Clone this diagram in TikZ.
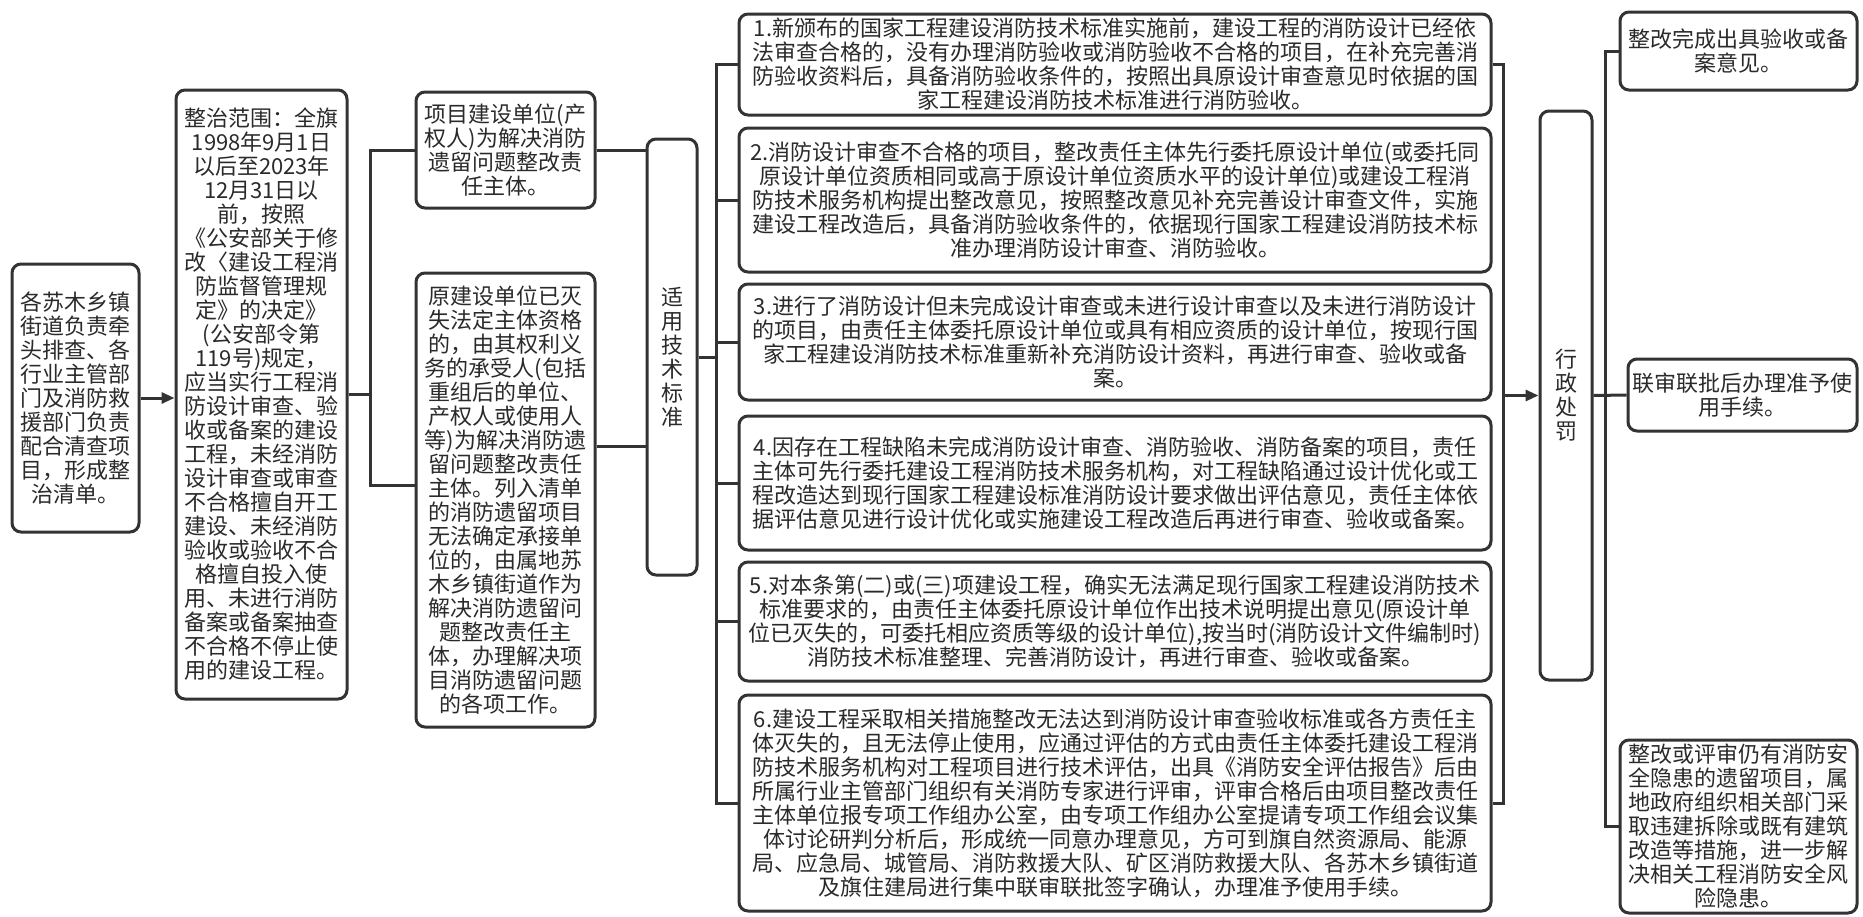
\documentclass[tikz,border=0pt]{standalone}
\usepackage{fontspec}
\newfontfamily\cjk{Noto Sans CJK SC}
\usetikzlibrary{arrows.meta}
\definecolor{ln}{HTML}{333333}
\definecolor{tx}{HTML}{2A2A2A}
\tikzset{
  box/.style={draw=ln, line width=3pt, rounded corners=9pt, fill=white, inner sep=0pt,
    align=center, text=tx, font=\cjk\fontsize{22}{24}\selectfont},
  conn/.style={draw=ln, line width=3pt},
  arr/.style={conn, -{Triangle[length=13pt,width=11pt]}}
}
\begin{document}
\begin{tikzpicture}[x=1pt,y=-1pt]
\useasboundingbox[fill=white] (0,0) rectangle (1863,916);

% left column
\node[box, minimum width=127pt, minimum height=268pt] (A) at (75.5,398)
 {各苏木乡镇\\街道负责牵\\头排查、各\\行业主管部\\门及消防救\\援部门负责\\配合清查项\\目，形成整\\治清单。};
\node[box, minimum width=171pt, minimum height=609pt] (B) at (261.5,394.5)
 {整治范围：全旗\\1998年9月1日\\以后至2023年\\12月31日以\\前，按照\\《公安部关于修\\改〈建设工程消\\防监督管理规\\定》的决定》\\(公安部令第\\119号)规定，\\应当实行工程消\\防设计审查、验\\收或备案的建设\\工程，未经消防\\设计审查或审查\\不合格擅自开工\\建设、未经消防\\验收或验收不合\\格擅自投入使\\用、未进行消防\\备案或备案抽查\\不合格不停止使\\用的建设工程。};
\node[box, minimum width=179pt, minimum height=116pt] (C) at (505.5,150)
 {项目建设单位(产\\权人)为解决消防\\遗留问题整改责\\任主体。};
\node[box, minimum width=179pt, minimum height=454pt] (D) at (505.5,500)
 {原建设单位已灭\\失法定主体资格\\的，由其权利义\\务的承受人(包括\\重组后的单位、\\产权人或使用人\\等)为解决消防遗\\留问题整改责任\\主体。列入清单\\的消防遗留项目\\无法确定承接单\\位的，由属地苏\\木乡镇街道作为\\解决消防遗留问\\题整改责任主\\体，办理解决项\\目消防遗留问题\\的各项工作。};
\node[box, minimum width=50pt, minimum height=436pt] (E) at (672,357)
 {适\\用\\技\\术\\标\\准};

% middle column
\node[box, minimum width=752pt, minimum height=101pt] (K1) at (1115,64.5)
 {1.新颁布的国家工程建设消防技术标准实施前，建设工程的消防设计已经依\\法审查合格的，没有办理消防验收或消防验收不合格的项目，在补充完善消\\防验收资料后，具备消防验收条件的，按照出具原设计审查意见时依据的国\\家工程建设消防技术标准进行消防验收。};
\node[box, minimum width=752pt, minimum height=144pt] (K2) at (1115,200)
 {2.消防设计审查不合格的项目，整改责任主体先行委托原设计单位(或委托同\\原设计单位资质相同或高于原设计单位资质水平的设计单位)或建设工程消\\防技术服务机构提出整改意见，按照整改意见补充完善设计审查文件，实施\\建设工程改造后，具备消防验收条件的，依据现行国家工程建设消防技术标\\准办理消防设计审查、消防验收。};
\node[box, minimum width=752pt, minimum height=116pt] (K3) at (1115,342)
 {3.进行了消防设计但未完成设计审查或未进行设计审查以及未进行消防设计\\的项目，由责任主体委托原设计单位或具有相应资质的设计单位，按现行国\\家工程建设消防技术标准重新补充消防设计资料，再进行审查、验收或备\\案。};
\node[box, minimum width=752pt, minimum height=134pt] (K4) at (1115,483)
 {4.因存在工程缺陷未完成消防设计审查、消防验收、消防备案的项目，责任\\主体可先行委托建设工程消防技术服务机构，对工程缺陷通过设计优化或工\\程改造达到现行国家工程建设标准消防设计要求做出评估意见，责任主体依\\据评估意见进行设计优化或实施建设工程改造后再进行审查、验收或备案。};
\node[box, minimum width=752pt, minimum height=119pt] (K5) at (1115,621.5)
 {5.对本条第(二)或(三)项建设工程，确实无法满足现行国家工程建设消防技术\\标准要求的，由责任主体委托原设计单位作出技术说明提出意见(原设计单\\位已灭失的，可委托相应资质等级的设计单位),按当时(消防设计文件编制时)\\消防技术标准整理、完善消防设计，再进行审查、验收或备案。};
\node[box, minimum width=752pt, minimum height=216pt] (K6) at (1115,803)
 {6.建设工程采取相关措施整改无法达到消防设计审查验收标准或各方责任主\\体灭失的，且无法停止使用，应通过评估的方式由责任主体委托建设工程消\\防技术服务机构对工程项目进行技术评估，出具《消防安全评估报告》后由\\所属行业主管部门组织有关消防专家进行评审，评审合格后由项目整改责任\\主体单位报专项工作组办公室，由专项工作组办公室提请专项工作组会议集\\体讨论研判分析后，形成统一同意办理意见，方可到旗自然资源局、能源\\局、应急局、城管局、消防救援大队、矿区消防救援大队、各苏木乡镇街道\\及旗住建局进行集中联审联批签字确认，办理准予使用手续。};

% right column
\node[box, minimum width=52pt, minimum height=569pt] (P) at (1566,395.5)
 {行\\政\\处\\罚};
\node[box, minimum width=237pt, minimum height=78pt] (R1) at (1738.5,51)
 {整改完成出具验收或备\\案意见。};
\node[box, minimum width=229pt, minimum height=72pt] (R2) at (1742.5,395)
 {联审联批后办理准予使\\用手续。};
\node[box, minimum width=237pt, minimum height=173pt] (R3) at (1738.5,826.5)
 {整改或评审仍有消防安\\全隐患的遗留项目，属\\地政府组织相关部门采\\取违建拆除或既有建筑\\改造等措施，进一步解\\决相关工程消防安全风\\险隐患。};

% connectors
\draw[arr] (A.east) -- (A.east -| B.west);
\draw[conn] (C.west) -- ++(-44,0) coordinate (lb) |- ([yshift=15pt]D.west);
\draw[conn] (B.east) -- (B.east -| lb);
\draw[conn] (C.east) -- (C.east -| E.west);
\draw[conn] ([yshift=54pt]D.east) -- ([yshift=54pt]D.east -| E.west);
\draw[conn] (K1.west) -- ++(-21,0) coordinate (mb) |- (K6.west);
\foreach \k in {K2,K3,K4,K5} \draw[conn] (\k.west) -- (\k.west -| mb);
\draw[conn] (E.east) -- (E.east -| mb);
\draw[conn] (K1.east) -- ++(11,0) coordinate (rb) |- (K6.east);
\coordinate (ra) at (rb |- P.west);
\draw[arr] (ra) -- (P.west);
\draw[conn] (R1.west) -- ++(-13,0) coordinate (pb) |- (R3.west);
\draw[conn] (P.east) -- (R2.west);
\end{tikzpicture}
\end{document}
